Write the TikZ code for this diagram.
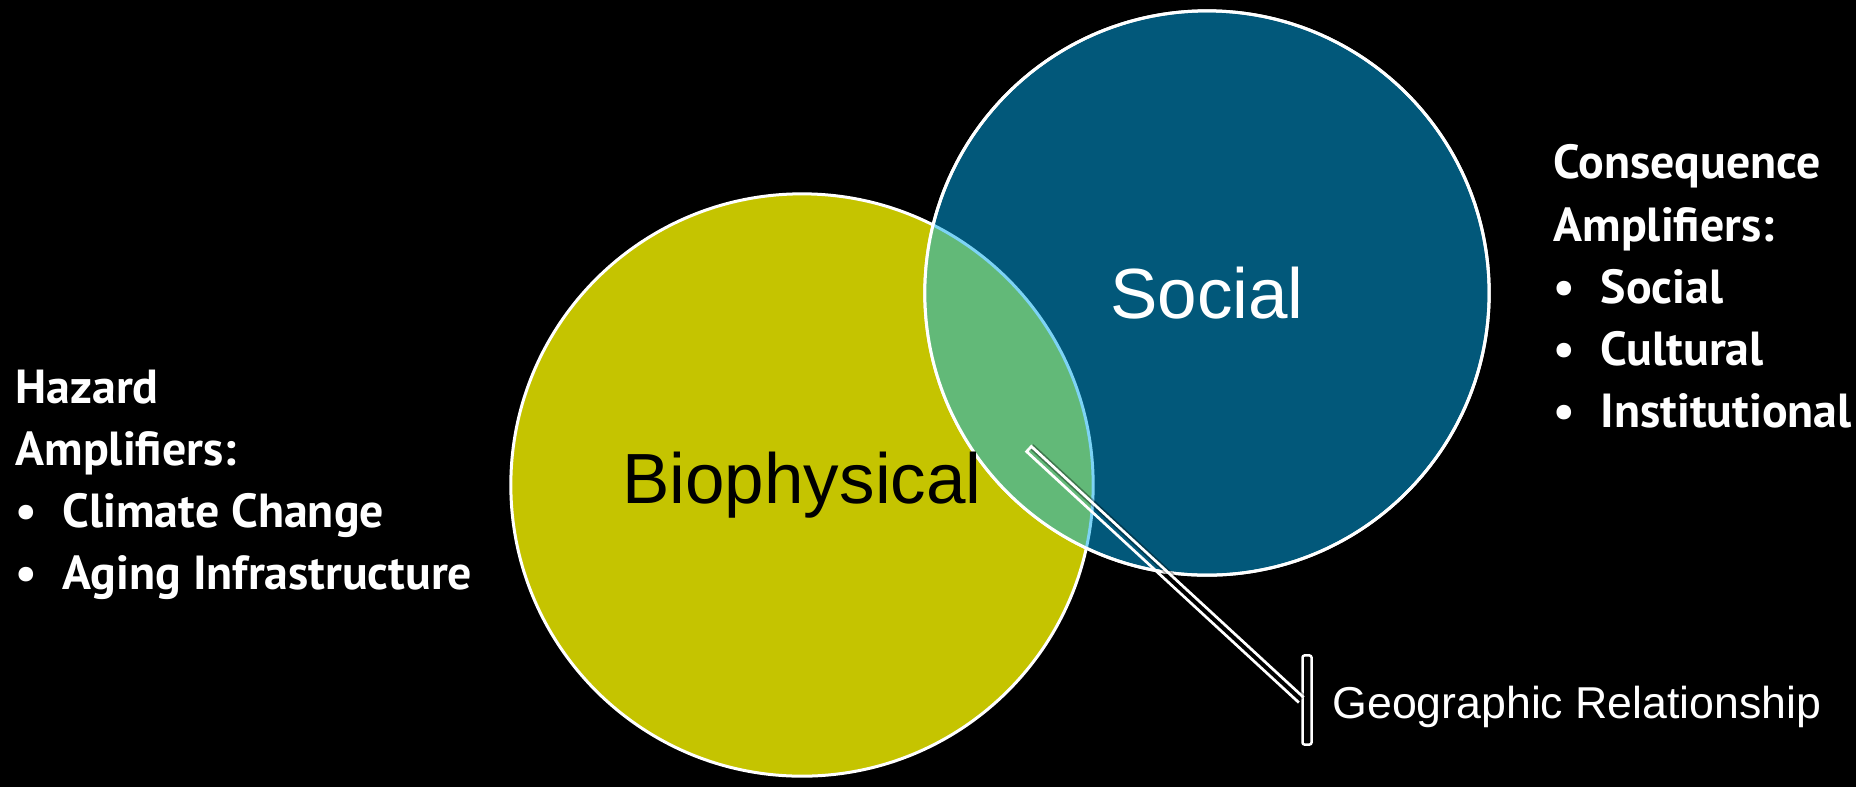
\documentclass[tikz,border=0pt]{standalone}
\usepackage{fontspec}
\setmainfont{Liberation Sans}
\newfontfamily\amplfont{PT Sans}
\usepackage{tikz}
\usetikzlibrary{positioning}
\usetikzlibrary{calc}
\definecolor{bioyellow}{HTML}{C5C400}
\definecolor{socblue}{HTML}{02587A}
\definecolor{lensgreen}{HTML}{62B978}
\definecolor{edgeblue}{HTML}{7DD3F5}
\newcommand{\amplitem}[1]{\makebox[0.47cm][l]{\textbullet}#1}

\begin{document}
\begin{tikzpicture}[
        x=0.01cm, y=-0.01cm,
        venn/.style={circle,draw=white,line width=0.03cm,minimum size=5.82cm,inner sep=0},
        bigname/.style={font=\fontsize{20.2}{24}\selectfont,inner sep=0},
        ampl/.style={text=white,font=\amplfont\bfseries\fontsize{13.6}{17.7}\selectfont,
                     align=left,inner sep=0},
        calloutline/.style={draw=white,line width=0.027cm},
        calloutshadow/.style={draw=black,opacity=0.35,line width=0.06cm,xshift=-0.02cm,yshift=-0.05cm}
      ]
      \fill[black] (0,0) rectangle (1856,787);
      \useasboundingbox (0,0) rectangle (1856,787);

      \node(bio)[venn,fill=bioyellow] at (802,485) {};
      \node(soc)[venn,fill=socblue,minimum size=5.64cm] at (1207,293) {};
      % overlap of the two circles
      \begin{scope}
        \clip (bio.center) circle (2.91cm);
        \fill[lensgreen] (soc.center) circle (2.82cm);
      \end{scope}
      \begin{scope}
        \clip (soc.center) circle (2.82cm);
        \draw[edgeblue,line width=0.03cm] (bio.center) circle (2.91cm);
      \end{scope}
      \draw[white,line width=0.03cm] (soc.center) circle (2.82cm);

      \node[bigname,text=black] at (bio.center) {Biophysical};
      \node[bigname,text=white] at (soc.center) {Social};

      \node(hazard)[ampl,anchor=north west] at (15,369) {Hazard\\Amplifiers:\\\amplitem{Climate Change}\\\amplitem{Aging Infrastructure}};
      \node(conseq)[ampl,anchor=north west] at (1553,144) {Consequence\\Amplifiers:\\\amplitem{Social}\\\amplitem{Cultural}\\\amplitem{Institutional}};

      \coordinate(tip) at (1029,449);
      \node(bar)[draw=white,line width=0.025cm,rounded corners=0.02cm,minimum width=0.09cm,
                 minimum height=0.89cm,inner sep=0] at (1307,700) {};
      \node(geo)[right=0.19cm of bar,yshift=-0.07cm,text=white,font=\fontsize{12.7}{15}\selectfont,inner sep=0] {Geographic Relationship};

      \draw[calloutshadow] ($(tip)!0.035cm!90:(bar.west)$) -- ($(bar.west)!0.035cm!-90:(tip)$);
      \draw[calloutline] ($(bar.west)!0.035cm!-90:(tip)$) -- ($(tip)!0.035cm!90:(bar.west)$)
                      -- ($(tip)!0.035cm!-90:(bar.west)$) -- ($(bar.west)!0.035cm!90:(tip)$);
    \end{tikzpicture}
\end{document}
